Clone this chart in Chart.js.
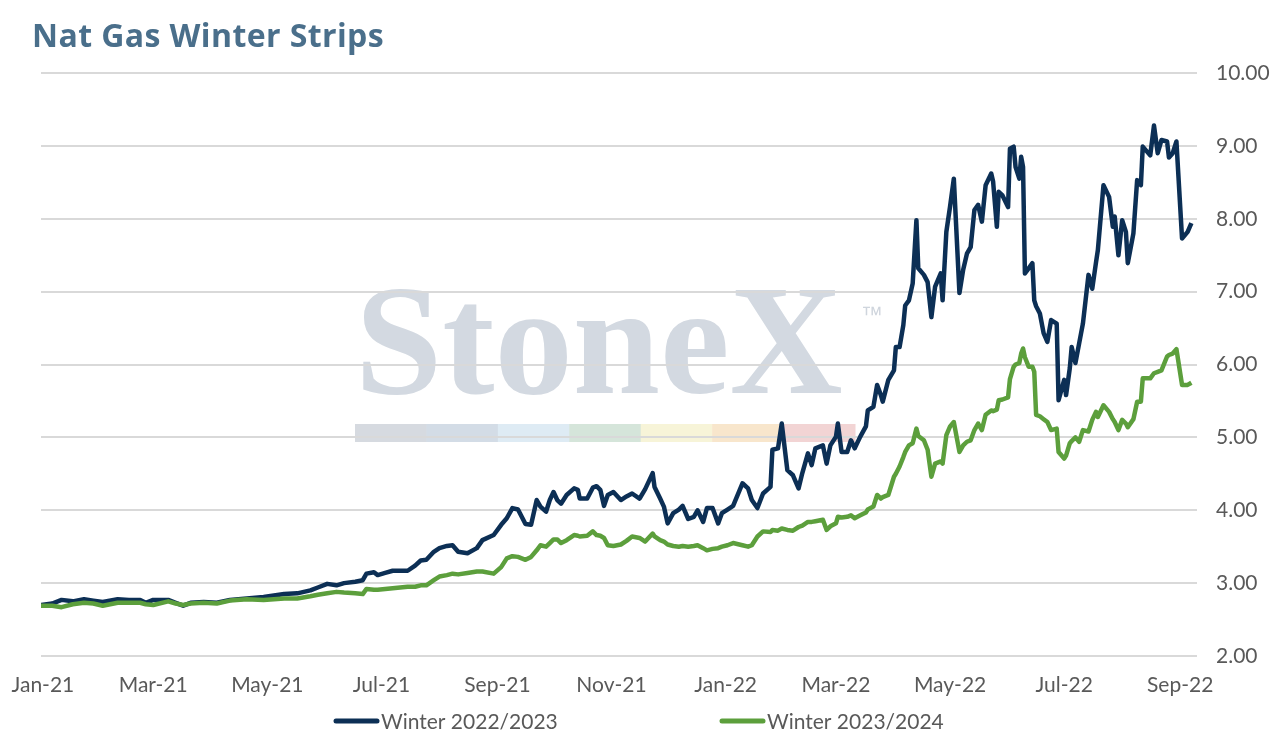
<!DOCTYPE html>
<html>
<head>
<meta charset="utf-8">
<title>Nat Gas Winter Strips</title>
<script src="https://cdn.jsdelivr.net/npm/chart.js@4.4.1/dist/chart.umd.min.js"></script>
<style>
  html, body { margin: 0; padding: 0; background: #fff; }
</style>
</head>
<body>
<canvas id="ctx" width="1275" height="743"></canvas>
<script>
// trade dates
const dates = [
  '2020-12-31', '2021-01-06', '2021-01-11', '2021-01-17', '2021-01-23', '2021-01-28',
  '2021-02-02', '2021-02-10', '2021-02-16', '2021-02-22', '2021-02-25',
  '2021-03-01', '2021-03-09', '2021-03-13', '2021-03-17', '2021-03-21', '2021-03-28',
  '2021-04-04', '2021-04-11', '2021-04-20', '2021-04-29',
  '2021-05-10', '2021-05-17', '2021-05-24', '2021-05-28',
  '2021-06-02', '2021-06-07', '2021-06-11', '2021-06-17', '2021-06-21', '2021-06-23', '2021-06-27', '2021-06-29',
  '2021-07-03', '2021-07-07', '2021-07-15', '2021-07-19', '2021-07-22', '2021-07-25', '2021-07-29',
  '2021-08-01', '2021-08-05', '2021-08-08', '2021-08-11', '2021-08-16', '2021-08-21', '2021-08-24', '2021-08-30',
  '2021-09-03', '2021-09-06', '2021-09-09', '2021-09-12', '2021-09-16', '2021-09-19', '2021-09-22', '2021-09-24', '2021-09-27', '2021-09-29',
  '2021-10-01', '2021-10-03', '2021-10-05', '2021-10-08', '2021-10-12', '2021-10-14', '2021-10-15', '2021-10-19', '2021-10-22', '2021-10-24', '2021-10-26', '2021-10-28', '2021-10-30',
  '2021-11-02', '2021-11-06', '2021-11-09', '2021-11-12', '2021-11-16', '2021-11-19', '2021-11-23', '2021-11-24', '2021-11-27', '2021-11-29',
  '2021-12-01', '2021-12-04', '2021-12-07', '2021-12-09', '2021-12-12', '2021-12-15', '2021-12-17', '2021-12-20', '2021-12-22', '2021-12-25', '2021-12-28', '2021-12-30',
  '2022-01-02', '2022-01-05', '2022-01-10', '2022-01-13', '2022-01-15', '2022-01-18', '2022-01-21', '2022-01-25', '2022-01-26', '2022-01-29', '2022-01-31',
  '2022-02-03', '2022-02-06', '2022-02-09', '2022-02-11', '2022-02-14', '2022-02-16', '2022-02-18', '2022-02-22', '2022-02-24', '2022-02-26',
  '2022-03-01', '2022-03-02', '2022-03-04', '2022-03-07', '2022-03-09', '2022-03-11', '2022-03-14', '2022-03-17', '2022-03-18', '2022-03-21', '2022-03-23', '2022-03-25', '2022-03-26', '2022-03-29',
  '2022-04-01', '2022-04-02', '2022-04-04', '2022-04-06', '2022-04-07', '2022-04-09', '2022-04-11', '2022-04-13', '2022-04-14', '2022-04-17', '2022-04-19', '2022-04-21', '2022-04-23', '2022-04-26', '2022-04-27', '2022-04-29',
  '2022-05-01', '2022-05-03', '2022-05-06', '2022-05-08', '2022-05-10', '2022-05-12', '2022-05-14', '2022-05-16', '2022-05-18', '2022-05-20', '2022-05-23', '2022-05-24', '2022-05-26', '2022-05-27', '2022-05-29',
  '2022-06-01', '2022-06-02', '2022-06-04', '2022-06-05', '2022-06-07', '2022-06-08', '2022-06-09', '2022-06-10', '2022-06-12', '2022-06-14', '2022-06-15', '2022-06-16', '2022-06-18', '2022-06-20', '2022-06-22', '2022-06-24', '2022-06-27', '2022-06-28',
  '2022-07-01', '2022-07-02', '2022-07-04', '2022-07-05', '2022-07-07', '2022-07-09', '2022-07-11', '2022-07-14', '2022-07-16', '2022-07-18', '2022-07-19', '2022-07-22', '2022-07-25', '2022-07-27', '2022-07-28', '2022-07-30',
  '2022-08-01', '2022-08-03', '2022-08-04', '2022-08-07', '2022-08-09', '2022-08-11', '2022-08-12', '2022-08-16', '2022-08-18', '2022-08-20', '2022-08-22', '2022-08-25', '2022-08-26', '2022-08-28', '2022-08-30',
  '2022-09-02', '2022-09-05', '2022-09-07'
];

const winter2223 = [
  2.70, 2.72, 2.77, 2.75, 2.78, 2.76, 2.74, 2.78, 2.77, 2.77,
  2.73, 2.77, 2.77, 2.73, 2.69, 2.73, 2.74, 2.73, 2.77, 2.79,
  2.81, 2.85, 2.86, 2.90, 2.94, 2.99, 2.97, 3.00, 3.02, 3.04,
  3.13, 3.15, 3.11, 3.14, 3.17, 3.17, 3.24, 3.31, 3.32, 3.43,
  3.48, 3.51, 3.52, 3.43, 3.41, 3.48, 3.59, 3.66, 3.80, 3.89,
  4.03, 4.01, 3.81, 3.80, 4.14, 4.05, 3.98, 4.14, 4.25, 4.14,
  4.09, 4.21, 4.30, 4.28, 4.16, 4.16, 4.31, 4.33, 4.28, 4.06,
  4.21, 4.25, 4.14, 4.19, 4.23, 4.16, 4.29, 4.51, 4.32, 4.16,
  4.05, 3.82, 3.96, 4.01, 4.06, 3.88, 3.91, 4.00, 3.84, 4.03,
  4.03, 3.82, 3.96, 4.01, 4.06, 4.37, 4.30, 4.14, 4.03, 4.23,
  4.32, 4.83, 4.85, 5.19, 4.55, 4.48, 4.30, 4.51, 4.78, 4.62,
  4.85, 4.89, 4.64, 4.89, 5.01, 5.19, 4.80, 4.80, 4.96, 4.85,
  5.01, 5.15, 5.37, 5.42, 5.72, 5.58, 5.49, 5.79, 5.92, 6.24,
  6.24, 6.54, 6.81, 6.88, 7.11, 7.98, 7.32, 7.23, 7.13, 6.65,
  7.07, 7.25, 6.88, 7.82, 8.17, 8.55, 6.98, 7.30, 7.52, 7.61,
  8.12, 8.19, 7.96, 8.46, 8.62, 8.51, 7.89, 8.37, 8.32, 8.16,
  8.96, 8.99, 8.71, 8.55, 8.85, 8.71, 7.25, 7.32, 7.39, 6.88,
  6.80, 6.70, 6.43, 6.31, 6.61, 6.56, 5.51, 5.79, 5.58, 5.95,
  6.24, 6.02, 6.29, 6.56, 7.23, 7.04, 7.40, 7.57, 8.46, 8.30,
  7.89, 8.03, 7.50, 7.98, 7.82, 7.39, 7.80, 8.53, 8.46, 8.99,
  8.87, 9.28, 8.90, 9.08, 9.06, 8.84, 8.90, 9.06, 7.73, 7.82,
  7.94
];

const winter2324 = [
  2.69, 2.69, 2.67, 2.71, 2.73, 2.72, 2.69, 2.73, 2.73, 2.73,
  2.71, 2.70, 2.75, 2.72, 2.70, 2.72, 2.73, 2.72, 2.76, 2.78,
  2.77, 2.79, 2.79, 2.82, 2.84, 2.86, 2.88, 2.87, 2.86, 2.85,
  2.92, 2.91, 2.91, 2.92, 2.93, 2.95, 2.95, 2.97, 2.97, 3.04,
  3.09, 3.11, 3.13, 3.12, 3.14, 3.16, 3.16, 3.13, 3.22, 3.34,
  3.37, 3.36, 3.32, 3.36, 3.45, 3.52, 3.50, 3.55, 3.60, 3.60,
  3.55, 3.59, 3.66, 3.65, 3.64, 3.65, 3.71, 3.66, 3.65, 3.62,
  3.52, 3.51, 3.53, 3.58, 3.64, 3.62, 3.57, 3.68, 3.64, 3.59,
  3.57, 3.53, 3.51, 3.50, 3.51, 3.50, 3.51, 3.52, 3.48, 3.45,
  3.47, 3.48, 3.50, 3.52, 3.55, 3.52, 3.50, 3.52, 3.64, 3.71,
  3.70, 3.73, 3.72, 3.75, 3.73, 3.72, 3.77, 3.79, 3.84, 3.84,
  3.85, 3.87, 3.73, 3.78, 3.82, 3.91, 3.90, 3.91, 3.93, 3.89,
  3.93, 3.97, 4.01, 4.05, 4.21, 4.16, 4.18, 4.21, 4.46, 4.50,
  4.60, 4.73, 4.80, 4.89, 4.92, 5.12, 5.02, 4.96, 4.83, 4.46,
  4.64, 4.67, 4.64, 5.03, 5.15, 5.21, 4.80, 4.89, 4.94, 4.96,
  5.10, 5.19, 5.10, 5.31, 5.37, 5.36, 5.38, 5.51, 5.52, 5.55,
  5.80, 5.97, 6.00, 6.02, 6.15, 6.22, 6.10, 5.97, 5.97, 5.90,
  5.31, 5.29, 5.25, 5.21, 5.10, 5.12, 4.80, 4.71, 4.75, 4.92,
  4.95, 5.00, 4.94, 5.10, 5.08, 5.24, 5.35, 5.28, 5.44, 5.35,
  5.25, 5.21, 5.10, 5.24, 5.19, 5.14, 5.25, 5.49, 5.49, 5.81,
  5.81, 5.88, 5.90, 5.92, 6.11, 6.13, 6.15, 6.21, 5.72, 5.72,
  5.75
];

const tickDates = [
  '2021-01-01', '2021-03-01', '2021-05-01', '2021-07-01', '2021-09-01', '2021-11-01',
  '2022-01-01', '2022-03-01', '2022-05-01', '2022-07-01', '2022-09-01'
];
const tickLabels = [
  'Jan-21', 'Mar-21', 'May-21', 'Jul-21', 'Sep-21', 'Nov-21',
  'Jan-22', 'Mar-22', 'May-22', 'Jul-22', 'Sep-22'
];
const axisStart = '2020-12-31';
const axisEnd = '2022-09-10';

const seriesLabels = ['Winter 2022/2023', 'Winter 2023/2024'];
const seriesColors = ['#0c2f55', '#5c9f3c'];

// days since 1 Jan 2021
function dayOf(s) {
  const [y, m, d] = s.split('-').map(Number);
  return (Date.UTC(y, m - 1, d) - Date.UTC(2021, 0, 1)) / 86400000;
}

const FONT = 'Lato';

// watermark, drawn under the grid
const watermark = {
  id: 'watermark',
  beforeDraw(chart) {
    const ctx = chart.ctx;
    ctx.save();
    ctx.font = 'bold 160px "Liberation Serif"';
    const w = ctx.measureText('StoneX').width;
    ctx.font = 'bold ' + (160 * 488 / w).toFixed(1) + 'px "Liberation Serif"';
    ctx.fillStyle = '#d3d9e1';
    ctx.textBaseline = 'alphabetic';
    ctx.fillText('StoneX', 355, 393);
    ctx.font = '22px "Liberation Sans"';
    ctx.fillStyle = '#cfd5dd';
    ctx.fillText('\u2122', 861, 322);
    const bands = ['#d6dae0', '#d3dce6', '#deebf4', '#d5e5da', '#f7f4d8', '#f8e6cc', '#f2d4d4'];
    const bw = 500 / bands.length;
    bands.forEach((c, i) => {
      ctx.fillStyle = c;
      ctx.fillRect(355 + i * bw, 424, bw + 0.5, 18);
    });
    ctx.restore();
  }
};

// title + legend
const decorations = {
  id: 'decorations',
  afterDraw(chart) {
    const ctx = chart.ctx;
    ctx.save();
    ctx.font = 'bold 32px "Open Sans"';
    ctx.fillStyle = '#4a6f8b';
    ctx.textBaseline = 'alphabetic';
    ctx.letterSpacing = '0.4px';
    ctx.fillText('Nat Gas Winter Strips', 32, 47);
    ctx.letterSpacing = '0px';

    const starts = [333, 719];
    ctx.font = '21px ' + FONT;
    ctx.textBaseline = 'middle';
    chart.data.datasets.forEach((ds, i) => {
      const x = starts[i], y = 721;
      ctx.strokeStyle = ds.borderColor;
      ctx.lineWidth = 5;
      ctx.lineCap = 'round';
      ctx.beginPath();
      ctx.moveTo(x + 3, y);
      ctx.lineTo(x + 44, y);
      ctx.stroke();
      ctx.fillStyle = '#595959';
      ctx.fillText(ds.label, x + 48, y + 1);
    });
    ctx.restore();
  }
};

const toPoints = vals => dates.map((d, i) => ({ x: dayOf(d), y: vals[i] }));

new Chart(document.getElementById('ctx'), {
  type: 'line',
  data: {
    datasets: [
      {
        label: seriesLabels[0],
        data: toPoints(winter2223),
        borderColor: seriesColors[0],
        borderWidth: 4.5,
        pointRadius: 0,
        tension: 0,
        borderJoinStyle: 'round',
        order: 1
      },
      {
        label: seriesLabels[1],
        data: toPoints(winter2324),
        borderColor: seriesColors[1],
        borderWidth: 4.5,
        pointRadius: 0,
        tension: 0,
        borderJoinStyle: 'round',
        order: 0
      }
    ]
  },
  options: {
    responsive: false,
    animation: false,
    layout: { padding: { left: 41, top: 73, right: 0, bottom: 0 } },
    plugins: {
      legend: { display: false },
      title: { display: false },
      tooltip: { enabled: false }
    },
    scales: {
      x: {
        type: 'linear',
        min: dayOf(axisStart),
        max: dayOf(axisEnd),
        grid: { display: false },
        border: { display: false },
        afterBuildTicks: scale => {
          scale.ticks = tickDates.map(t => ({ value: dayOf(t) }));
        },
        afterFit: scale => { scale.height = 87; },
        ticks: {
          autoSkip: false,
          maxRotation: 0,
          padding: 9,
          color: '#595959',
          font: { family: FONT, size: 21 },
          callback: (value, index) => tickLabels[index]
        }
      },
      y: {
        position: 'right',
        min: 2,
        max: 10,
        grid: { color: '#d9d9d9', lineWidth: 2, drawTicks: false },
        border: { display: false },
        afterFit: scale => { scale.width = 78; },
        ticks: {
          stepSize: 1,
          padding: 19,
          color: '#595959',
          font: { family: FONT, size: 21 },
          callback: v => v.toFixed(2)
        }
      }
    }
  },
  plugins: [watermark, decorations]
});
</script>
</body>
</html>
